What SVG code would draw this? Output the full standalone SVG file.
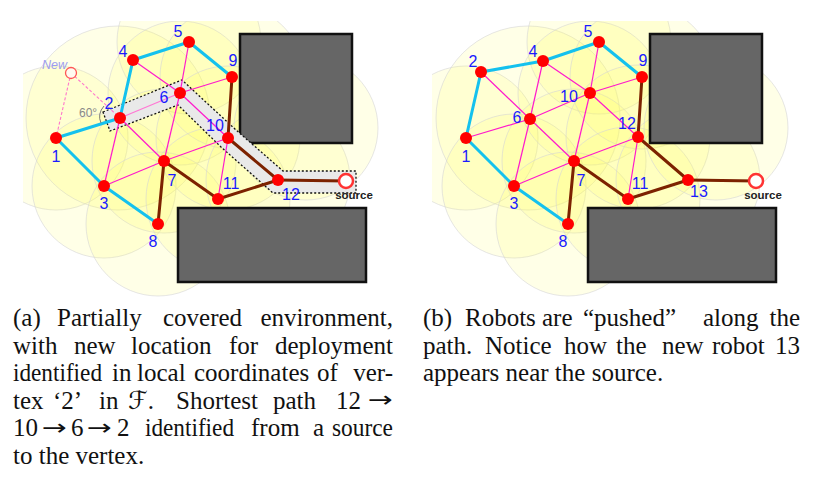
<svg xmlns="http://www.w3.org/2000/svg" width="824" height="484" viewBox="0 0 824 484">
<style>
.cov{fill:#ffff55;fill-opacity:0.14;stroke:#d6d6d6;stroke-opacity:0.6;stroke-width:1}
.obs{fill:#666666;stroke:#111111;stroke-width:2.5}
.cy{stroke:#14c1ee;stroke-width:3;stroke-linecap:round}
.br{stroke:#7c2200;stroke-width:3;stroke-linecap:round}
.pk{stroke:#ff1acc;stroke-width:1.2}
.pkl{stroke:#ff77d4;stroke-width:1.2}
.dsh{stroke:#ff77cc;stroke-width:1.1;stroke-dasharray:3,2}
.nd{fill:#ff0000}
.lb{font-family:"Liberation Sans",Arial,sans-serif;font-size:16px;fill:#1a1aff;text-anchor:middle}
.src{fill:#ffffff;stroke:#ff3333;stroke-width:2.5}
.srcl{font-family:"Liberation Sans",Arial,sans-serif;font-size:11.5px;font-weight:bold;fill:#222;text-anchor:middle}
.cap{font-family:"Liberation Serif","Times New Roman","DejaVu Serif",serif;font-size:25px;fill:#111}
.e{text-anchor:end}
.ar{font-family:"DejaVu Sans",sans-serif;font-size:22px}
</style>
<defs>
<clipPath id="clipA"><rect x="23" y="21" width="400" height="280"/></clipPath>
<clipPath id="clipB"><rect x="432" y="21" width="390" height="280"/></clipPath>
</defs>
<g id="coverage-a" clip-path="url(#clipA)">
<circle class="cov" cx="56" cy="138" r="72"/>
<circle class="cov" cx="118" cy="118" r="92"/>
<circle class="cov" cx="104" cy="186" r="72"/>
<circle class="cov" cx="189" cy="42" r="72"/>
<circle class="cov" cx="180" cy="93" r="72"/>
<circle class="cov" cx="164" cy="161" r="72"/>
<circle class="cov" cx="158" cy="224" r="72"/>
<circle class="cov" cx="232" cy="77" r="72"/>
<circle class="cov" cx="228" cy="138" r="72"/>
<circle class="cov" cx="218" cy="199" r="72"/>
<circle class="cov" cx="278" cy="180" r="72"/>
<circle class="cov" cx="306" cy="128" r="72"/>
</g>
<g id="coverage-b" clip-path="url(#clipB)">
<circle class="cov" cx="466" cy="138" r="72"/>
<circle class="cov" cx="528" cy="118" r="92"/>
<circle class="cov" cx="514" cy="186" r="72"/>
<circle class="cov" cx="599" cy="42" r="72"/>
<circle class="cov" cx="590" cy="93" r="72"/>
<circle class="cov" cx="574" cy="161" r="72"/>
<circle class="cov" cx="568" cy="224" r="72"/>
<circle class="cov" cx="642" cy="77" r="72"/>
<circle class="cov" cx="638" cy="137" r="72"/>
<circle class="cov" cx="628" cy="199" r="72"/>
<circle class="cov" cx="688" cy="180" r="72"/>
<circle class="cov" cx="716" cy="128" r="72"/>
</g>
<g id="obstacles">
<rect class="obs" x="240" y="34" width="112" height="109"/>
<rect class="obs" x="178" y="208" width="188" height="74"/>
<rect class="obs" x="650" y="34" width="112" height="109"/>
<rect class="obs" x="588" y="208" width="188" height="74"/>
</g>
<g id="path-band">
<polygon points="103,112 182,80 236,130 283,171 356,171 356,193 273,193 221,147 178,105 110,131" fill="#e9e9e9" stroke="#111" stroke-width="1.3" stroke-dasharray="2,2"/>
</g>
<g id="connectors">
<g id="edges-a">
<line class="pkl" x1="120" y1="118" x2="180" y2="93"/>
<line class="pk" x1="120" y1="118" x2="104" y2="186"/>
<line class="pk" x1="120" y1="118" x2="164" y2="161"/>
<line class="pk" x1="133" y1="60" x2="180" y2="93"/>
<line class="pk" x1="189" y1="42" x2="180" y2="93"/>
<line class="pk" x1="180" y1="93" x2="232" y2="77"/>
<line class="pk" x1="180" y1="93" x2="164" y2="161"/>
<line class="pk" x1="180" y1="93" x2="228" y2="138"/>
<line class="pk" x1="164" y1="161" x2="228" y2="138"/>
<line class="pk" x1="228" y1="138" x2="218" y2="199"/>
<line class="pk" x1="104" y1="186" x2="164" y2="161"/>
<line class="cy" x1="56" y1="138" x2="120" y2="118"/>
<line class="cy" x1="120" y1="118" x2="133" y2="60"/>
<line class="cy" x1="133" y1="60" x2="189" y2="42"/>
<line class="cy" x1="189" y1="42" x2="232" y2="77"/>
<line class="cy" x1="56" y1="138" x2="104" y2="186"/>
<line class="cy" x1="104" y1="186" x2="158" y2="224"/>
<line class="br" x1="232" y1="77" x2="228" y2="138"/>
<line class="br" x1="228" y1="138" x2="278" y2="180"/>
<line class="br" x1="218" y1="199" x2="278" y2="180"/>
<line class="br" x1="164" y1="161" x2="218" y2="199"/>
<line class="br" x1="164" y1="161" x2="158" y2="224"/>
<line class="br" x1="278" y1="180" x2="346" y2="181"/>
<line class="dsh" x1="71" y1="73" x2="56" y2="138"/>
<line class="dsh" x1="71" y1="73" x2="120" y2="118"/>
<path d="M104,106 Q97,114 101,123" fill="none" stroke="#777" stroke-width="1"/>
</g>
<g id="edges-b">
<line class="pk" x1="466" y1="138" x2="530" y2="119"/>
<line class="pk" x1="543" y1="61" x2="530" y2="119"/>
<line class="pk" x1="481" y1="72" x2="530" y2="119"/>
<line class="pk" x1="543" y1="61" x2="590" y2="93"/>
<line class="pk" x1="599" y1="42" x2="590" y2="93"/>
<line class="pk" x1="530" y1="119" x2="590" y2="93"/>
<line class="pk" x1="590" y1="93" x2="642" y2="77"/>
<line class="pk" x1="530" y1="119" x2="514" y2="186"/>
<line class="pk" x1="530" y1="119" x2="574" y2="161"/>
<line class="pk" x1="590" y1="93" x2="574" y2="161"/>
<line class="pk" x1="590" y1="93" x2="638" y2="137"/>
<line class="pk" x1="574" y1="161" x2="638" y2="137"/>
<line class="pk" x1="638" y1="137" x2="628" y2="199"/>
<line class="pk" x1="514" y1="186" x2="574" y2="161"/>
<line class="cy" x1="466" y1="138" x2="481" y2="72"/>
<line class="cy" x1="481" y1="72" x2="543" y2="61"/>
<line class="cy" x1="543" y1="61" x2="599" y2="42"/>
<line class="cy" x1="599" y1="42" x2="642" y2="77"/>
<line class="cy" x1="466" y1="138" x2="514" y2="186"/>
<line class="cy" x1="514" y1="186" x2="568" y2="224"/>
<line class="br" x1="642" y1="77" x2="638" y2="137"/>
<line class="br" x1="638" y1="137" x2="688" y2="180"/>
<line class="br" x1="628" y1="199" x2="688" y2="180"/>
<line class="br" x1="574" y1="161" x2="628" y2="199"/>
<line class="br" x1="574" y1="161" x2="568" y2="224"/>
<line class="br" x1="688" y1="180" x2="756" y2="181"/>
</g>
</g>
<g id="nodes-a">
<g id="a-n1"><circle class="nd" cx="56" cy="138" r="6"/><text class="lb" x="56" y="162">1</text></g>
<g id="a-n2"><circle class="nd" cx="120" cy="118" r="6"/><text class="lb" x="109" y="109">2</text></g>
<g id="a-n3"><circle class="nd" cx="104" cy="186" r="6"/><text class="lb" x="104" y="209">3</text></g>
<g id="a-n4"><circle class="nd" cx="133" cy="60" r="6"/><text class="lb" x="123" y="57">4</text></g>
<g id="a-n5"><circle class="nd" cx="189" cy="42" r="6"/><text class="lb" x="178" y="37">5</text></g>
<g id="a-n6"><circle class="nd" cx="180" cy="93" r="6"/><text class="lb" x="164" y="103">6</text></g>
<g id="a-n7"><circle class="nd" cx="164" cy="161" r="6"/><text class="lb" x="172" y="186">7</text></g>
<g id="a-n8"><circle class="nd" cx="158" cy="224" r="6"/><text class="lb" x="153" y="247">8</text></g>
<g id="a-n9"><circle class="nd" cx="232" cy="77" r="6"/><text class="lb" x="233" y="66">9</text></g>
<g id="a-n10"><circle class="nd" cx="228" cy="138" r="6"/><text class="lb" x="215" y="131">10</text></g>
<g id="a-n11"><circle class="nd" cx="218" cy="199" r="6"/><text class="lb" x="231" y="189">11</text></g>
<g id="a-n12"><circle class="nd" cx="278" cy="180" r="6"/><text class="lb" x="291" y="200">12</text></g>
<g id="a-source"><circle class="src" cx="346" cy="181" r="7"/><text class="srcl" x="354" y="199">source</text></g>
<g id="a-new"><circle cx="71" cy="73" r="5.5" fill="#fffaf0" stroke="#ff5555" stroke-width="1.3"/><text x="42" y="69" font-family="Liberation Sans,Arial,sans-serif" font-size="12.5" font-style="italic" fill="#9c9cf0">New</text></g>
<g id="a-angle"><text x="79" y="117" font-family="Liberation Sans,Arial,sans-serif" font-size="12" fill="#888">60°</text></g>
</g>
<g id="nodes-b">
<g id="b-n1"><circle class="nd" cx="466" cy="138" r="6"/><text class="lb" x="466" y="162">1</text></g>
<g id="b-n2"><circle class="nd" cx="481" cy="72" r="6"/><text class="lb" x="473" y="67">2</text></g>
<g id="b-n3"><circle class="nd" cx="514" cy="186" r="6"/><text class="lb" x="514" y="209">3</text></g>
<g id="b-n4"><circle class="nd" cx="543" cy="61" r="6"/><text class="lb" x="533" y="57">4</text></g>
<g id="b-n5"><circle class="nd" cx="599" cy="42" r="6"/><text class="lb" x="588" y="37">5</text></g>
<g id="b-n6"><circle class="nd" cx="530" cy="119" r="6"/><text class="lb" x="517" y="123">6</text></g>
<g id="b-n7"><circle class="nd" cx="574" cy="161" r="6"/><text class="lb" x="581" y="186">7</text></g>
<g id="b-n8"><circle class="nd" cx="568" cy="224" r="6"/><text class="lb" x="563" y="247">8</text></g>
<g id="b-n9"><circle class="nd" cx="642" cy="77" r="6"/><text class="lb" x="643" y="66">9</text></g>
<g id="b-n10"><circle class="nd" cx="590" cy="93" r="6"/><text class="lb" x="569" y="102">10</text></g>
<g id="b-n11"><circle class="nd" cx="628" cy="199" r="6"/><text class="lb" x="640" y="189">11</text></g>
<g id="b-n12"><circle class="nd" cx="638" cy="137" r="6"/><text class="lb" x="627" y="129">12</text></g>
<g id="b-n13"><circle class="nd" cx="688" cy="180" r="6"/><text class="lb" x="699" y="197">13</text></g>
<g id="b-source"><circle class="src" cx="756" cy="181" r="7"/><text class="srcl" x="763" y="199">source</text></g>
</g>
<g id="caption-a" class="cap">
<text x="13" y="326">(a)</text><text x="57" y="326">Partially</text><text x="163" y="326">covered</text><text class="e" x="393" y="326">environment,</text>
<text x="13" y="353.5">with</text><text x="74" y="353.5">new</text><text x="131" y="353.5">location</text><text x="229" y="353.5">for</text><text class="e" x="393" y="353.5">deployment</text>
<text x="13" y="381" textLength="89" lengthAdjust="spacingAndGlyphs">identified</text><text x="112" y="381">in</text><text x="137" y="381">local</text><text x="194" y="381">coordinates</text><text x="317" y="381">of</text><text class="e" x="393" y="381">ver-</text>
<text x="13" y="408.5">tex</text><text x="53" y="408.5">‘2’</text><text x="99" y="408.5">in</text><text x="128" y="408.5"><tspan font-family="DejaVu Serif,DejaVu Sans,serif" font-style="italic">ℱ</tspan>.</text><text x="176" y="408.5">Shortest</text><text x="273" y="408.5">path</text><text x="336" y="408.5">12</text><text class="ar" x="368" y="407" textLength="25" lengthAdjust="spacingAndGlyphs">→</text>
<text x="13" y="436">10</text><text class="ar" x="42" y="434.5" textLength="25" lengthAdjust="spacingAndGlyphs">→</text><text x="71" y="436">6</text><text class="ar" x="87" y="434.5" textLength="25" lengthAdjust="spacingAndGlyphs">→</text><text x="117" y="436">2</text><text x="145" y="436" textLength="89" lengthAdjust="spacingAndGlyphs">identified</text><text x="251" y="436">from</text><text x="313" y="436">a</text><text x="332" y="436" textLength="61" lengthAdjust="spacingAndGlyphs">source</text>
<text x="13" y="463.5">to the vertex.</text>
</g>
<g id="caption-b" class="cap">
<text x="423" y="326">(b)</text><text x="465" y="326">Robots</text><text x="542" y="326">are</text><text x="583" y="326">“pushed”</text><text x="703" y="326">along</text><text class="e" x="800" y="326">the</text>
<text x="423" y="353.5">path.</text><text x="485" y="353.5">Notice</text><text x="564" y="353.5">how</text><text x="616" y="353.5">the</text><text x="662" y="353.5">new</text><text x="712" y="353.5">robot</text><text class="e" x="800" y="353.5">13</text>
<text x="423" y="381">appears near the source.</text>
</g>
</svg>
